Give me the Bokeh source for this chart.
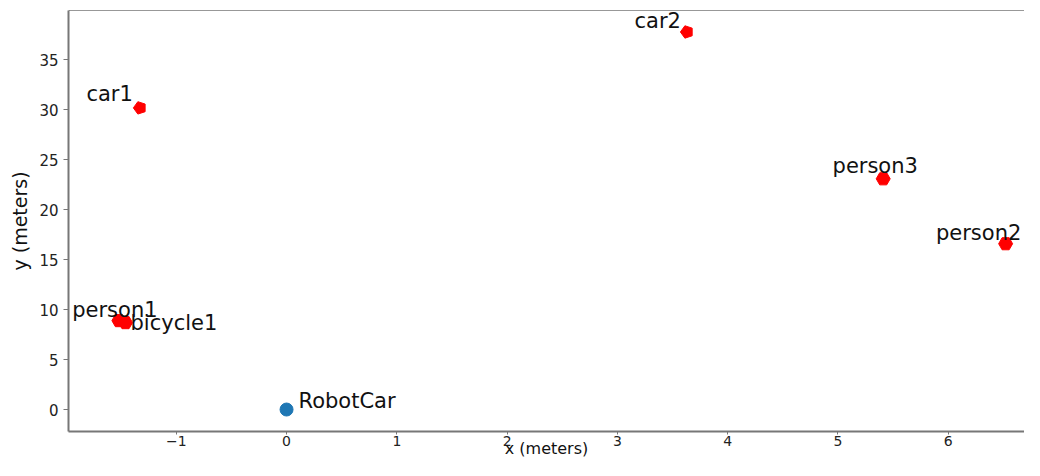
import numpy as np
from bokeh.plotting import figure
from bokeh.models import Range1d, FixedTicker, CustomJSTickFormatter, Span, ColumnDataSource
from bokeh.core.properties import value
from bokeh.embed import file_html
from bokeh.resources import INLINE

# ---- data ----
robot_names = ["RobotCar"]
robot_x = [0.0]
robot_y = [0.0]

car_names = ["car1", "car2"]
car_x = [-1.33, 3.63]
car_y = [30.2, 37.8]

person_names = ["person1", "bicycle1", "person3", "person2"]
person_x = [-1.52, -1.46, 5.41, 6.52]
person_y = [8.9, 8.7, 23.1, 16.6]

x_ticks = [-1, 0, 1, 2, 3, 4, 5, 6]
y_ticks = [0, 5, 10, 15, 20, 25, 30, 35]

# ---- label styles (alignment, pixel offsets) ----
label_style = {
    "RobotCar": ("left", 12, -9),
    "car1": ("right", -7, -14),
    "car2": ("right", -6, -11),
    "person1": ("center", -4, -11),
    "bicycle1": ("left", 5, 0),
    "person3": ("center", -8, -13),
    "person2": ("center", -27, -11),
}

FONT = "DejaVu Sans"
X0, X1 = -1.977, 6.691
Y0, Y1 = -2.2, 39.95

p = figure(width=1024, height=460, output_backend="svg", toolbar_location=None,
           x_range=Range1d(X0, X1), y_range=Range1d(Y0, Y1),
           min_border_left=68, min_border_right=0, min_border_top=10, min_border_bottom=29)
p.outline_line_color = None
p.xgrid.visible = False
p.ygrid.visible = False
p.background_fill_color = "white"
p.border_fill_color = "white"

fmt = CustomJSTickFormatter(code="return tick < 0 ? '\u2212' + Math.abs(tick) : tick.toString();")
for ax, ticks in ((p.xaxis[0], x_ticks), (p.yaxis[0], y_ticks)):
    ax.ticker = FixedTicker(ticks=ticks)
    ax.formatter = fmt
    ax.minor_tick_line_color = None
    ax.major_tick_in = 0
    ax.axis_line_color = "#777777"
    ax.axis_line_width = 2
    ax.major_tick_line_color = "#777777"
    ax.major_label_text_font = FONT
    ax.major_label_text_color = "#222222"
    ax.axis_label_text_font = FONT
    ax.axis_label_text_font_style = "normal"
    ax.axis_label_text_color = "#111111"
p.xaxis.major_tick_out = 3
p.xaxis.major_label_standoff = 1
p.xaxis.major_label_text_font_size = "14px"
p.xaxis.axis_label = "x (meters)"
p.xaxis.axis_label_text_font_size = "16px"
p.xaxis.axis_label_standoff = -10
p.yaxis.major_tick_out = 5
p.yaxis.major_label_standoff = 5
p.yaxis.major_label_text_font_size = "15px"
p.yaxis.axis_label = "y (meters)"
p.yaxis.axis_label_text_font_size = "19px"
p.yaxis.axis_label_standoff = 5

# top spine
p.add_layout(Span(location=Y1, dimension="width", line_color="#333333", line_width=1))

# markers
p.scatter(robot_x, robot_y, size=13, marker="circle", color="#1f77b4")
p.scatter(person_x, person_y, size=14, marker="hex", color="red")
if hasattr(p, "ngon"):
    p.ngon(x=car_x, y=car_y, radius=6.5, radius_units="screen", n=5, angle=np.pi / 2,
           fill_color="red", line_color="red")
else:
    p.scatter(car_x, car_y, size=12, marker="hex", color="red")

# labels
names = robot_names + car_names + person_names
xs = robot_x + car_x + person_x
ys = robot_y + car_y + person_y
src = ColumnDataSource(dict(
    x=xs, y=ys, text=names,
    align=[label_style[n][0] for n in names],
    dx=[label_style[n][1] for n in names],
    dy=[label_style[n][2] for n in names],
))
p.text(x="x", y="y", text="text", source=src, text_align="align", x_offset="dx", y_offset="dy",
       text_baseline="alphabetic", text_font=value(FONT), text_font_size="21px", text_color="#111111")

open("out.html", "w").write(file_html(p, INLINE))
